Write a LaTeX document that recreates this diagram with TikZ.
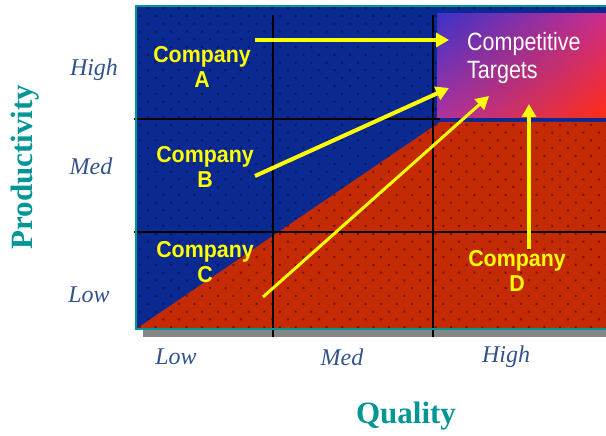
\documentclass[tikz,border=0pt]{standalone}
\usepackage{fontspec}
\setmainfont{Liberation Serif}
\setsansfont{Liberation Sans}
\usetikzlibrary{arrows.meta,patterns.meta,shadings}

\definecolor{gridblue}{RGB}{10,42,145}
\definecolor{gridred}{RGB}{196,42,4}
\definecolor{dotblue}{RGB}{6,26,92}
\definecolor{dotred}{RGB}{120,20,5}
\definecolor{frameteal}{RGB}{0,150,150}
\definecolor{ticktext}{RGB}{50,82,140}
\definecolor{arrowyellow}{RGB}{255,255,0}
\definecolor{targetUL}{RGB}{60,50,200}
\definecolor{targetUR}{RGB}{205,45,140}
\definecolor{targetLL}{RGB}{175,50,160}
\definecolor{targetLR}{RGB}{255,45,20}

\begin{document}
\begin{tikzpicture}[x=1pt, y=-1pt,
  company/.style={font=\sffamily\bfseries\fontsize{23}{25}\selectfont,
    text=arrowyellow, align=center, inner sep=0pt, xscale=0.93},
  tick/.style={font=\itshape\fontsize{24}{24}\selectfont, text=ticktext, inner sep=0pt},
  axislabel/.style={font=\bfseries\fontsize{31}{31}\selectfont, text=frameteal, inner sep=0pt},
  dotted area/.style={pattern={Dots[distance=11pt,radius=1.4pt,angle=45]}},
  yarrow/.style={draw=arrowyellow, line width=4pt,
    -{Triangle[length=13pt,width=14pt]}}]

  \useasboundingbox (0,0) rectangle (606,436);

  % shadow under the chart
  \fill[gray!95] (143,329) rectangle (606,337);

  % blue background and red region under the diagonal
  \fill[gridblue] (136,7) rectangle (606,329);
  \fill[dotted area, pattern color=dotblue] (136,7) rectangle (606,329);
  \fill[gridred] (139,327) -- (440,122) -- (606,122) -- (606,329) -- (136,329) -- cycle;
  \fill[dotted area, pattern color=dotred]
    (139,327) -- (440,122) -- (606,122) -- (606,329) -- (136,329) -- cycle;

  % grid lines
  \foreach \x in {273,433}
    \draw[black, line width=1.6pt] (\x,15) -- (\x,337);
  \draw[black, line width=1.6pt] (134,119) -- (440,119);
  \draw[black, line width=1.6pt] (134,232) -- (606,232);

  % target box
  \node[rectangle, minimum width=169pt, minimum height=104pt, inner sep=0pt,
    shade, upper left=targetUL, upper right=targetUR,
    lower left=targetLL, lower right=targetLR] (targets) at (521.5,66) {};
  \node[font=\sffamily\fontsize{25}{28}\selectfont, text=white, align=left,
    anchor=west, inner sep=0pt, xscale=0.86] (targettext) at (467,58) {Competitive\\Targets};

  % chart frame
  \draw[frameteal, line width=2pt] (606,6) -- (136,6) -- (136,329) -- (606,329);

  % companies
  \node[company] (compA) at (202,67) {Company\\A};
  \node[company] (compB) at (205,167) {Company\\B};
  \node[company] (compC) at (205,262) {Company\\C};
  \node[company] (compD) at (517,271) {Company\\D};

  % arrow ends
  \coordinate (startA) at (255,40);
  \coordinate (startB) at (255,176);
  \coordinate (startC) at (263,297);
  \coordinate (startD) at (529,249);
  \coordinate (endA) at (449,40);
  \coordinate (endB) at (449,88);
  \coordinate (endC) at (489,96);
  \coordinate (endD) at (529,104);

  \draw[yarrow] (startA) -- (endA);
  \draw[yarrow] (startB) -- (endB);
  \draw[yarrow, line width=3pt] (startC) -- (endC);
  \draw[yarrow] (startD) -- (endD);

  % axis ticks and labels
  \node[tick] (yhigh) at (94,70) {High};
  \node[tick] (ymed) at (91,166) {Med};
  \node[tick] (ylow) at (89,295) {Low};
  \node[tick] (xlow) at (176,357) {Low};
  \node[tick] (xmed) at (342,357) {Med};
  \node[tick] (xhigh) at (506,357) {High};

  \node[axislabel, rotate=90] (ylabel) at (25,167) {Productivity};
  \node[axislabel] (xlabel) at (406,416) {Quality};

\end{tikzpicture}
\end{document}
